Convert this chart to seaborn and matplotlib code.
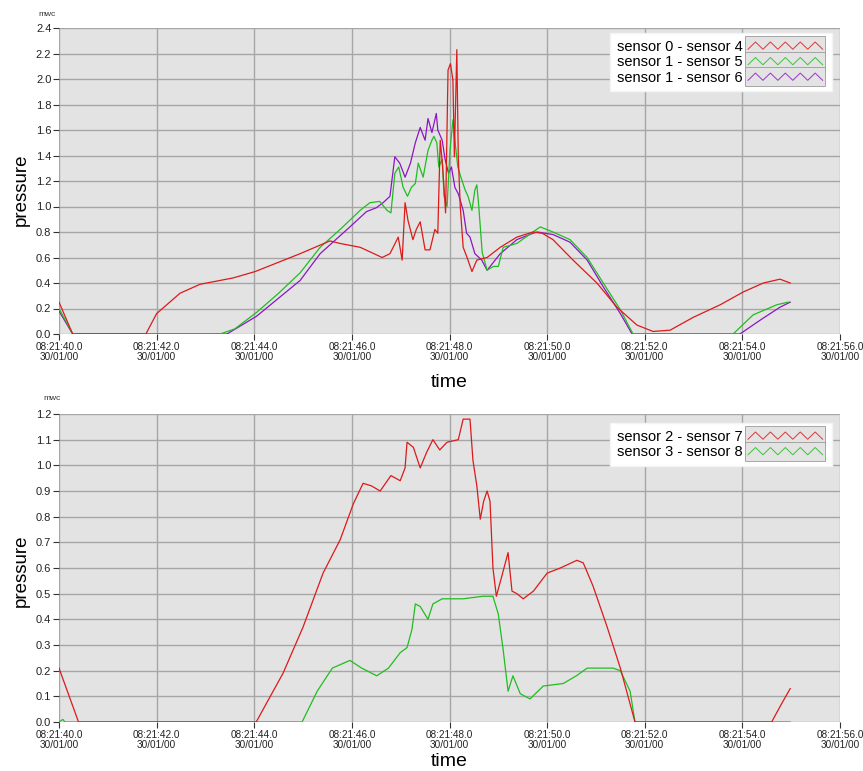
import numpy as np
import pandas as pd
import seaborn as sns
import matplotlib.pyplot as plt
from matplotlib.legend_handler import HandlerBase
from matplotlib.lines import Line2D
from matplotlib.patches import Rectangle

# pressure differences, values (time in seconds after 08:21)
t_s0_s4 = [40.0, 40.28, 41.78, 42.0, 42.48, 42.89, 43.57, 44.02, 44.94, 45.55, 45.76, 46.17, 46.62, 46.78,
           46.95, 47.03, 47.09, 47.15, 47.25, 47.32, 47.40, 47.50, 47.60, 47.70, 47.76, 47.81, 47.86, 47.92,
           47.97, 48.02, 48.07, 48.10, 48.15, 48.18, 48.22, 48.28, 48.36, 48.46, 48.56, 48.77, 49.04, 49.38,
           49.71, 49.90, 50.12, 50.53, 51.02, 51.43, 51.84, 52.17, 52.52, 52.99, 53.55, 54.02, 54.43, 54.77, 54.98]
p_s0_s4 = [0.25, 0.0, 0.0, 0.16, 0.32, 0.39, 0.44, 0.49, 0.63, 0.73, 0.71, 0.68, 0.60, 0.63,
           0.76, 0.58, 1.03, 0.89, 0.74, 0.82, 0.88, 0.66, 0.66, 0.82, 0.79, 1.52, 1.31, 0.95,
           2.07, 2.12, 1.99, 1.39, 2.23, 1.39, 1.00, 0.68, 0.60, 0.49, 0.58, 0.60, 0.68, 0.76,
           0.80, 0.79, 0.74, 0.58, 0.40, 0.21, 0.07, 0.02, 0.03, 0.13, 0.23, 0.33, 0.40, 0.43, 0.40]

t_s1_s5 = [40.0, 40.28, 43.30, 43.60, 44.05, 44.50, 44.94, 45.35, 45.76, 46.17, 46.37, 46.57, 46.72, 46.80,
           46.88, 46.96, 47.05, 47.14, 47.22, 47.30, 47.36, 47.46, 47.56, 47.64, 47.68, 47.74, 47.78, 47.85,
           47.89, 47.95, 48.01, 48.07, 48.11, 48.17, 48.25, 48.32, 48.38, 48.46, 48.52, 48.56, 48.60, 48.67,
           48.77, 48.90, 49.00, 49.10, 49.38, 49.71, 49.86, 50.12, 50.47, 50.82, 51.15, 51.50, 51.76, 53.81,
           54.22, 54.71, 54.94]
p_s1_s5 = [0.20, 0.0, 0.0, 0.04, 0.17, 0.32, 0.48, 0.68, 0.82, 0.97, 1.03, 1.04, 0.97, 0.95,
           1.26, 1.31, 1.15, 1.08, 1.15, 1.18, 1.34, 1.23, 1.44, 1.52, 1.55, 1.50, 1.31, 1.37,
           1.08, 1.00, 1.44, 1.68, 1.52, 1.31, 1.21, 1.13, 1.08, 0.97, 1.13, 1.17, 1.00, 0.64,
           0.50, 0.53, 0.53, 0.68, 0.71, 0.80, 0.84, 0.80, 0.74, 0.60, 0.40, 0.19, 0.0, 0.0,
           0.15, 0.23, 0.25]

t_s1_s6 = [40.0, 40.28, 43.44, 44.05, 44.94, 45.35, 45.96, 46.30, 46.50, 46.64, 46.78, 46.88, 46.98, 47.09,
           47.20, 47.30, 47.40, 47.50, 47.56, 47.64, 47.73, 47.76, 47.85, 47.91, 47.98, 48.04, 48.11, 48.18,
           48.28, 48.35, 48.42, 48.52, 48.66, 48.77, 49.04, 49.38, 49.71, 49.80, 50.12, 50.47, 50.82, 51.15,
           51.50, 51.74, 53.95, 54.37, 54.77, 54.98]
p_s1_s6 = [0.18, 0.0, 0.0, 0.14, 0.42, 0.63, 0.84, 0.96, 0.99, 1.03, 1.08, 1.39, 1.34, 1.23,
           1.34, 1.50, 1.62, 1.52, 1.69, 1.58, 1.73, 1.60, 1.52, 1.37, 1.26, 1.31, 1.15, 1.10,
           0.97, 0.79, 0.76, 0.63, 0.58, 0.50, 0.63, 0.74, 0.79, 0.80, 0.78, 0.72, 0.58, 0.37,
           0.16, 0.0, 0.0, 0.11, 0.21, 0.25]

t_s2_s7 = [40.0, 40.40, 44.04, 44.30, 44.59, 45.00, 45.41, 45.76, 46.03, 46.23, 46.40, 46.58, 46.80, 46.99,
           47.09, 47.13, 47.26, 47.40, 47.53, 47.66, 47.80, 47.95, 48.18, 48.28, 48.42, 48.48, 48.56, 48.63,
           48.70, 48.77, 48.83, 48.89, 48.96, 49.06, 49.20, 49.28, 49.38, 49.51, 49.72, 50.00, 50.27, 50.61,
           50.74, 50.94, 51.23, 51.50, 51.70, 51.80, 54.60, 54.80, 54.98]
p_s2_s7 = [0.21, 0.0, 0.0, 0.09, 0.19, 0.37, 0.58, 0.71, 0.85, 0.93, 0.92, 0.90, 0.96, 0.94,
           0.99, 1.09, 1.07, 0.99, 1.05, 1.10, 1.06, 1.09, 1.10, 1.18, 1.18, 1.02, 0.92, 0.79,
           0.86, 0.90, 0.86, 0.60, 0.49, 0.56, 0.66, 0.51, 0.50, 0.48, 0.51, 0.58, 0.60, 0.63,
           0.62, 0.53, 0.37, 0.21, 0.07, 0.0, 0.0, 0.07, 0.13]

t_s3_s8 = [40.0, 40.08, 40.12, 44.98, 45.29, 45.60, 45.96, 46.20, 46.51, 46.75, 46.99, 47.13, 47.23, 47.30,
           47.40, 47.56, 47.66, 47.85, 48.07, 48.28, 48.69, 48.89, 49.00, 49.10, 49.20, 49.30, 49.45, 49.65,
           49.92, 50.33, 50.60, 50.82, 51.35, 51.50, 51.70, 51.80, 54.98]
p_s3_s8 = [0.0, 0.01, 0.0, 0.0, 0.12, 0.21, 0.24, 0.21, 0.18, 0.21, 0.27, 0.29, 0.36, 0.46,
           0.45, 0.40, 0.46, 0.48, 0.48, 0.48, 0.49, 0.49, 0.42, 0.28, 0.12, 0.18, 0.11, 0.09,
           0.14, 0.15, 0.18, 0.21, 0.21, 0.20, 0.12, 0.0, 0.0]

top_names = ['sensor 0 - sensor 4', 'sensor 1 - sensor 5', 'sensor 1 - sensor 6']
bottom_names = ['sensor 2 - sensor 7', 'sensor 3 - sensor 8']

x_ticks = [40, 42, 44, 46, 48, 50, 52, 54, 56]
x_tick_labels = ['08:21:40.0\n30/01/00', '08:21:42.0\n30/01/00', '08:21:44.0\n30/01/00',
                 '08:21:46.0\n30/01/00', '08:21:48.0\n30/01/00', '08:21:50.0\n30/01/00',
                 '08:21:52.0\n30/01/00', '08:21:54.0\n30/01/00', '08:21:56.0\n30/01/00']
top_y_ticks = [0.0, 0.2, 0.4, 0.6, 0.8, 1.0, 1.2, 1.4, 1.6, 1.8, 2.0, 2.2, 2.4]
bottom_y_ticks = [0.0, 0.1, 0.2, 0.3, 0.4, 0.5, 0.6, 0.7, 0.8, 0.9, 1.0, 1.1, 1.2]

RED = '#dc1a1a'
GREEN = '#1fbe1f'
PURPLE = '#8e14c6'
BG = '#e3e3e3'
GRID = '#a6a6a6'


def long_df(names, times, values):
    parts = []
    for n, t, p in zip(names, times, values):
        parts.append(pd.DataFrame({'time': t, 'pressure': p, 'pair': n}))
    return pd.concat(parts, ignore_index=True)


top_df = long_df(top_names, [t_s0_s4, t_s1_s5, t_s1_s6], [p_s0_s4, p_s1_s5, p_s1_s6])
bottom_df = long_df(bottom_names, [t_s2_s7, t_s3_s8], [p_s2_s7, p_s3_s8])


class ZigZagHandler(HandlerBase):
    # LabVIEW style legend swatch: grey box with a zigzag line
    def create_artists(self, legend, orig_handle, xdescent, ydescent, width, height, fontsize, trans):
        x0, y0 = -xdescent, -ydescent
        box = Rectangle((x0, y0 - 2.5), width, height + 5, facecolor=BG, edgecolor='#9a9a9a',
                        linewidth=0.6, transform=trans)
        xs = np.linspace(x0 + 2, x0 + width - 2, 11)
        ys = np.where(np.arange(11) % 2 == 0, y0 + height * 0.2, y0 + height * 0.8)
        zz = Line2D(xs, ys, color=orig_handle.get_color(), linewidth=0.7, alpha=0.85, transform=trans)
        return [box, zz]


plt.rcParams['font.family'] = ['Liberation Sans', 'DejaVu Sans']

fig = plt.figure(figsize=(8.63, 7.71), dpi=100)
W, H = 863, 771
ax_top = fig.add_axes([59 / W, 1 - 334 / H, 781 / W, 306 / H])
ax_bot = fig.add_axes([59 / W, 1 - 722 / H, 781 / W, 308 / H])

panels = [
    (ax_top, top_df, [top_names[2], top_names[1], top_names[0]],
     {top_names[0]: RED, top_names[1]: GREEN, top_names[2]: PURPLE},
     top_names, top_y_ticks, 2.4, 33, 28, 306, 9, 0.47),
    (ax_bot, bottom_df, [bottom_names[1], bottom_names[0]],
     {bottom_names[0]: RED, bottom_names[1]: GREEN},
     bottom_names, bottom_y_ticks, 1.2, 423, 414, 308, 2.5, 0.49),
]

for ax, df, order, pal, leg_names, yticks, ymax, leg_top, ax_top_px, ax_h, xlpad, ylab_y in panels:
    ax.set_facecolor(BG)
    sns.lineplot(data=df, x='time', y='pressure', hue='pair', hue_order=order, palette=pal,
                 linewidth=0.9, legend=False, ax=ax, estimator=None, sort=False)
    ax.set_xlim(40, 56)
    ax.set_ylim(0, ymax)
    ax.set_xticks(x_ticks)
    ax.set_xticklabels(x_tick_labels, fontsize=7.2, linespacing=1.0)
    ax.set_yticks(yticks)
    ax.set_yticklabels([f'{v:.1f}' for v in yticks], fontsize=8)
    ax.grid(True, color=GRID, linewidth=1.0)
    ax.set_axisbelow(True)
    for sp in ax.spines.values():
        sp.set_visible(False)
    ax.tick_params(axis='both', direction='out', length=4, width=0.8, color='#333333', pad=1.5,
                   labelcolor='#222222')
    ax.set_xlabel('time', fontsize=14, labelpad=xlpad)
    ax.set_ylabel('pressure', fontsize=13.5)
    ax.yaxis.set_label_coords(-0.037, ylab_y)

    handles = [Line2D([], [], color=pal[n]) for n in leg_names]
    top_frac = 1 - (leg_top - ax_top_px) / ax_h
    ax.legend(handles, leg_names, loc='upper right', bbox_to_anchor=(1 - 8 / 781, top_frac),
              borderaxespad=0, fontsize=10.5, markerfirst=False, handlelength=5.5,
              handleheight=0.9, handletextpad=0.2, labelspacing=0.1, borderpad=0.45,
              frameon=True, fancybox=False, framealpha=1, edgecolor='#f4f4f4',
              handler_map={Line2D: ZigZagHandler()})

fig.text(47 / W, 1 - 14 / H, 'mwc', fontsize=6, ha='center', va='center', color='#333333')
fig.text(52 / W, 1 - 398 / H, 'mwc', fontsize=6, ha='center', va='center', color='#333333')

fig.savefig('out.png', dpi=100, facecolor='white')
